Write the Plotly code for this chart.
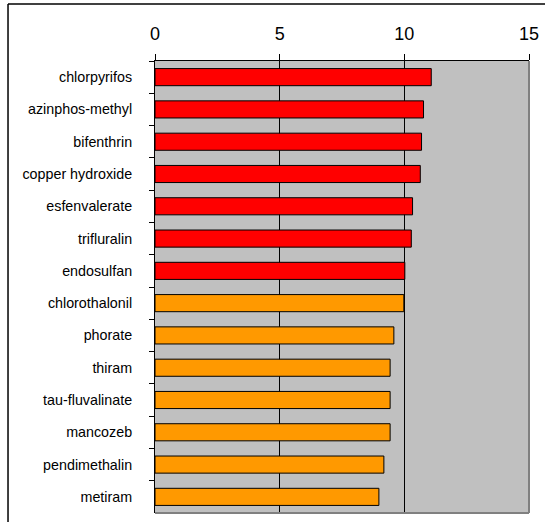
import plotly.graph_objects as go

# Pesticides and their scores
pesticides = [
    "chlorpyrifos", "azinphos-methyl", "bifenthrin", "copper hydroxide",
    "esfenvalerate", "trifluralin", "endosulfan", "chlorothalonil",
    "phorate", "thiram", "tau-fluvalinate", "mancozeb",
    "pendimethalin", "metiram",
]
scores = [11.08, 10.77, 10.69, 10.64, 10.33, 10.28, 10.02,
          9.98, 9.58, 9.43, 9.43, 9.43, 9.18, 8.98]
tiers = ["high"] * 7 + ["moderate"] * 7
x_ticks = [0, 5, 10, 15]

tier_colors = {"high": "#FF0000", "moderate": "#FF9900"}

fig = go.Figure(
    go.Bar(
        x=scores,
        y=pesticides,
        orientation="h",
        width=0.53,
        marker=dict(
            color=[tier_colors[t] for t in tiers],
            line=dict(color="#000000", width=1),
        ),
        hoverinfo="x+y",
    )
)

font_family = "Liberation Sans, Arial, sans-serif"

fig.update_layout(
    width=545,
    height=522,
    margin=dict(l=155, r=16, t=61, b=9, pad=0, autoexpand=False),
    paper_bgcolor="#FFFFFF",
    plot_bgcolor="#C0C0C0",
    showlegend=False,
    font=dict(family=font_family, color="#000000"),
    xaxis=dict(
        side="top",
        range=[0, 15],
        tickvals=x_ticks,
        ticktext=[str(v) for v in x_ticks],
        ticks="outside",
        ticklen=6,
        tickwidth=1,
        tickcolor="#000000",
        showline=True,
        linecolor="#000000",
        linewidth=1,
        showgrid=True,
        gridcolor="#000000",
        gridwidth=1,
        zeroline=False,
        tickfont=dict(size=18, family=font_family, color="#000000"),
        ticklabelstandoff=7,
        fixedrange=True,
    ),
    yaxis=dict(
        type="category",
        autorange="reversed",
        tickson="boundaries",
        ticks="outside",
        ticklen=5,
        tickwidth=1,
        tickcolor="#000000",
        showline=True,
        linecolor="#000000",
        linewidth=1,
        showgrid=False,
        zeroline=False,
        tickfont=dict(size=14.3, family=font_family, color="#000000"),
        ticklabelstandoff=19,
        fixedrange=True,
    ),
    shapes=[
        # grey right and bottom edges of the plot area
        dict(type="line", xref="paper", yref="paper", x0=1, x1=1, y0=0, y1=1,
             line=dict(color="#808080", width=2), layer="above"),
        dict(type="line", xref="paper", yref="paper", x0=0, x1=1, y0=0, y1=0,
             line=dict(color="#808080", width=2), layer="above"),
        # outer frame (top and left)
        dict(type="line", xref="paper", yref="paper", x0=-0.393, x1=1.1,
             y0=1.126, y1=1.126, line=dict(color="#000000", width=1.5)),
        dict(type="line", xref="paper", yref="paper", x0=-0.393, x1=-0.393,
             y0=-0.1, y1=1.126, line=dict(color="#000000", width=1.5)),
    ],
)

fig.write_html("out.html")
